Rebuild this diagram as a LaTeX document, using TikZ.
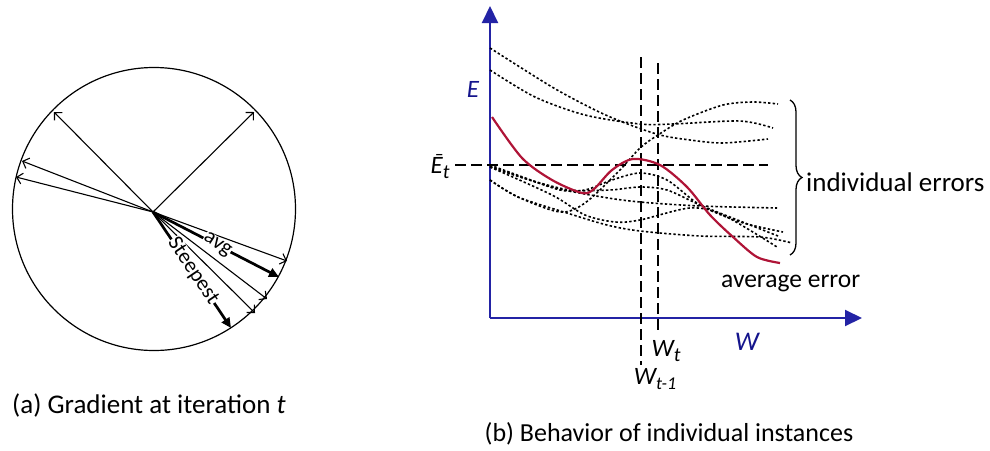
\documentclass[tikz,border=0pt]{standalone}
\usepackage{fontspec}
\setmainfont{Carlito}
\usetikzlibrary{arrows.meta,decorations.pathreplacing}
\definecolor{axisblue}{RGB}{35,35,165}
\definecolor{labelblue}{RGB}{20,20,140}
\definecolor{avgred}{RGB}{175,20,55}
\begin{document}
\begin{tikzpicture}[x=1pt,y=-1pt,
  thinarrow/.style={line width=1.1pt,-{Straight Barb[length=5.5pt,width=11pt]}},
  thickarrow/.style={line width=2.7pt,-{Triangle[length=10pt,width=9pt]}},
  rotlabel/.style={fill=white,inner sep=0.4pt,font=\fontsize{21.5}{24}\selectfont},
  caption/.style={font=\fontsize{27}{30}\selectfont,inner sep=0pt},
  plainlabel/.style={font=\fontsize{25.5}{30}\selectfont,inner sep=0pt},
  mathlabel/.style={font=\fontsize{25}{30}\selectfont\itshape,inner sep=0pt},
  axis/.style={draw=axisblue,line width=2pt,-{Triangle[length=17pt,width=16pt]},fill=none},
  indiv/.style={line width=1.6pt,dash pattern=on 2.4pt off 2.2pt},
  guide/.style={line width=1.4pt,dash pattern=on 11pt off 5pt},
  avgcurve/.style={draw=avgred,line width=2.2pt}
]
\useasboundingbox (0,0) rectangle (990,450);

% ---------- (a) gradient fan ----------
\node[draw,circle,line width=1.2pt,minimum size=283pt,inner sep=0pt] (circ) at (154,209) {};
\coordinate (O) at (153,212);
\coordinate (t1) at (54,112);
\coordinate (t2) at (254,112);
\coordinate (t3) at (22,161);
\coordinate (t4) at (16,177);
\coordinate (t5) at (287,261);
\coordinate (tavg) at (279,277);
\coordinate (t6) at (267,299);
\coordinate (t7) at (255,313);
\coordinate (tst) at (231,328);
\draw[thinarrow] (O) -- (t1);
\draw[thinarrow] (O) -- (t2);
\draw[thinarrow] (O) -- (t3);
\draw[thinarrow] (O) -- (t4);
\draw[thinarrow] (O) -- (t5);
\draw[thinarrow] (O) -- (t6);
\draw[thinarrow] (O) -- (t7);
\draw[thickarrow] (O) -- (tavg);
\draw[thickarrow] (O) -- (tst);
\node[rotlabel,rotate=-33] (avglab) at (217,245) {avg};
\node[rotlabel,rotate=-56] (steeplab) at (193,271) {Steepest};
\node[caption] (capa) at (149,405) {(a) Gradient at iteration \textit{t}};

% ---------- (b) individual instances ----------
\coordinate (orig) at (490,318);
\coordinate (ytip) at (490,6);
\coordinate (xtip) at (862,318);
\draw[axis] (orig) -- (ytip);
\draw[axis] (orig) -- (xtip);
\node[mathlabel,text=labelblue] (Elab) at (473,89) {E};
\node[mathlabel,text=labelblue,font=\fontsize{27}{30}\selectfont\itshape] (Wlab) at (747,342) {W};

% guide lines
\coordinate (hl) at (455,165);
\coordinate (hr) at (768,165);
\coordinate (v1t) at (641,57);
\coordinate (v1b) at (641,365);
\coordinate (v2t) at (658,63);
\coordinate (v2b) at (658,333);
\draw[guide] (hl) -- (hr);
\draw[guide] (v1t) -- (v1b);
\draw[guide] (v2t) -- (v2b);

% individual error curves
\draw[indiv] plot[smooth] coordinates {(490,48) (552,87) (595,110) (625,123) (660,135) (690,140) (723,143) (768,139)};
\draw[indiv] plot[smooth] coordinates {(490,70) (535,97) (585,115) (640,124) (673,124) (740,121) (773,128)};
\draw[indiv] plot[smooth] coordinates {(490,180) (518,197) (560,212) (585,203) (618,172) (640,148) (658,135) (683,120) (723,105) (753,102) (778,104)};
\draw[indiv] plot[smooth] coordinates {(490,165) (520,176) (560,190) (585,190) (612,180) (640,173) (667,180) (700,205) (740,222) (783,232)};
\draw[indiv] plot[smooth] coordinates {(490,166) (530,180) (570,190) (610,190) (640,187) (667,190) (700,205) (740,221) (778,236)};
\draw[indiv] plot[smooth] coordinates {(490,167) (552,187) (602,197) (640,202) (700,206) (777,208)};
\draw[indiv] plot[smooth] coordinates {(490,167) (552,195) (585,215) (615,222) (640,220) (690,208) (723,215) (777,247)};
\draw[indiv] plot[smooth] coordinates {(490,180) (518,197) (567,213) (607,225) (640,231) (700,236) (760,237) (792,243)};

% average error curve
\draw[avgcurve] plot[smooth] coordinates {(492,117) (522,158) (552,180) (582,193) (594,189) (612,170) (633,159) (660,165) (687,187) (710,215) (733,237) (757,257) (780,263)};

% brace and labels
\coordinate (brt) at (790,100);
\coordinate (brb) at (790,255);
\draw[line width=1.3pt,decorate,decoration={brace,amplitude=12pt}] (brt) -- (brb);
\node[plainlabel,anchor=west,font=\fontsize{27}{30}\selectfont] (indivlab) at (806,182) {individual errors};
\node[plainlabel,anchor=west] (avglab2) at (721,283) {average error};
\node[mathlabel] (Ebar) at (440,167) {Ē\raisebox{-5pt}{\fontsize{20}{20}\selectfont t}};
\node[mathlabel] (Wt) at (666,351) {W\raisebox{-5pt}{\fontsize{20}{20}\selectfont t}};
\node[mathlabel] (Wt1) at (655,379) {W\raisebox{-5pt}{\fontsize{18}{18}\selectfont t-1}};
\node[caption,font=\fontsize{26}{30}\selectfont] (capb) at (669,434) {(b) Behavior of individual instances};
\end{tikzpicture}
\end{document}
